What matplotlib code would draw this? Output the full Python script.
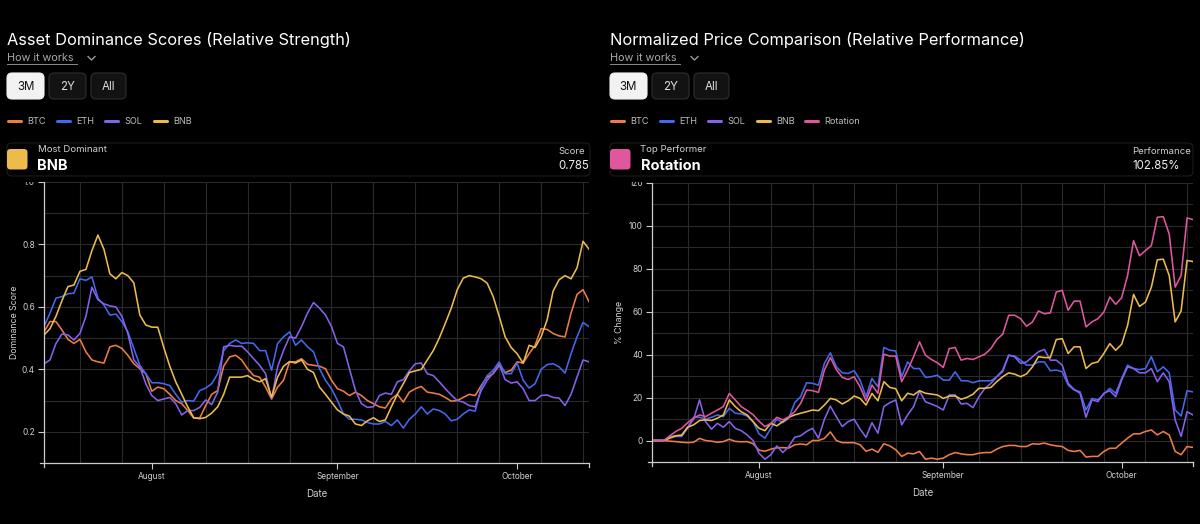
import numpy as np
import matplotlib
matplotlib.use('Agg')
import matplotlib.pyplot as plt
import matplotlib.dates as mdates
from matplotlib.ticker import MultipleLocator
from matplotlib.patches import FancyBboxPatch, Rectangle

plt.rcParams['font.family'] = ['Inter', 'DejaVu Sans']

# daily points, 14 Jul 2025 .. 13 Oct 2025
dates = np.arange('2025-07-14', '2025-10-14', dtype='datetime64[D]')

# dominance scores (left chart)
dom_btc = [.52, .553, .553, .526, .496, .483, .496, .456, .43, .424, .42, .472, .477, .467, .445, .418,
           .402, .386, .33, .343, .338, .32, .30, .29, .268, .244, .244, .284, .32, .332, .41, .44,
           .445, .43, .402, .38, .375, .343, .305, .343, .365, .424, .424, .434, .416, .413, .41, .402,
           .365, .338, .33, .316, .327, .316, .30, .29, .28, .276, .305, .32, .295, .327, .338, .345,
           .327, .324, .32, .31, .298, .30, .31, .32, .316, .348, .375, .386, .413, .39, .397, .424,
           .42, .45, .477, .53, .528, .515, .507, .504, .58, .64, .655, .617]
dom_eth = [.537, .58, .628, .633, .642, .644, .69, .685, .696, .628, .606, .574, .577, .553, .52, .467,
           .413, .386, .357, .357, .354, .348, .32, .295, .30, .298, .332, .34, .354, .386, .46, .483,
           .494, .483, .485, .483, .46, .46, .397, .483, .504, .52, .477, .494, .472, .456, .402, .365,
           .338, .30, .257, .24, .24, .238, .23, .225, .225, .233, .22, .238, .212, .24, .257, .28,
           .257, .273, .268, .257, .235, .24, .257, .27, .266, .343, .38, .397, .424, .386, .386, .42,
           .365, .34, .354, .40, .415, .418, .408, .388, .45, .504, .55, .537]
dom_sol = [.418, .43, .483, .513, .51, .494, .515, .57, .663, .623, .61, .603, .60, .57, .515, .43,
           .408, .354, .316, .30, .305, .31, .29, .254, .268, .268, .278, .302, .287, .327, .472, .477,
           .474, .474, .456, .434, .413, .386, .305, .408, .461, .504, .50, .537, .58, .614, .596, .574,
           .537, .483, .472, .402, .332, .29, .278, .28, .316, .324, .32, .36, .367, .395, .418, .42,
           .386, .38, .36, .338, .318, .30, .295, .284, .28, .332, .365, .388, .416, .367, .356, .36,
           .338, .30, .30, .316, .318, .31, .308, .284, .32, .375, .43, .424]
dom_bnb = [.51, .53, .57, .62, .665, .67, .714, .72, .78, .83, .785, .706, .69, .71, .70, .677,
           .574, .542, .535, .535, .47, .41, .36, .32, .28, .245, .242, .246, .26, .28, .32, .375,
           .375, .375, .38, .367, .36, .37, .31, .375, .41, .425, .42, .43, .40, .39, .343, .32,
           .295, .27, .257, .25, .225, .22, .235, .245, .233, .238, .28, .32, .354, .39, .395, .40,
           .43, .46, .50, .547, .596, .655, .692, .70, .696, .69, .676, .633, .57, .504, .47, .45,
           .42, .477, .47, .504, .558, .65, .687, .70, .69, .725, .81, .785]

# normalized % change (right chart)
perf_btc = [0, 0, 0, -0.3, -0.5, -0.8, -1, -0.8, 1, 0, -0.3, -0.8, -0.5, 0.6, -0.4, -0.6,
            -0.5, -1.5, -4.5, -5, -4, -3.4, -3.3, -3.5, -2, -1.6, -2, 0, 0, 1, 4, 0,
            -1, -1, -1, -2, -5, -4, -5.5, -1.5, -2.5, -4.3, -7.4, -5.9, -6.2, -5.1, -8.7, -8.2,
            -8.7, -8.2, -6.6, -5.6, -6.2, -6.6, -6.6, -5.9, -5.6, -5.6, -4, -2.8, -2.3, -2.3, -2.8, -2.8,
            -1.5, -1.7, -1.2, -2, -2.5, -2.8, -4.6, -5.1, -4.6, -7.7, -7.4, -7.4, -5.1, -3.6, -3.6, -1.2,
            1.1, 3.1, 3.1, 4.2, 4.9, 2.6, 4.2, 2.6, -5.1, -6.6, -2.8, -3.2]
perf_eth = [0, 0, 0, 1.9, 2.2, 2.2, 5.7, 10.8, 10.8, 9.9, 10.8, 11.9, 11.1, 15, 12.7, 12.4,
            11.4, 8.8, 3.1, 1.1, 5.7, 9.9, 8.3, 10.4, 17.6, 20.4, 26.9, 26.6, 25.8, 35.9, 40.8, 34.3,
            31.5, 31.2, 32.5, 28.1, 20.4, 28.9, 25, 43.3, 42, 41.7, 29.7, 36.6, 33.5, 33.5, 29.4, 29.7,
            30.4, 28.1, 28.1, 32, 27.8, 27.8, 26.9, 27.8, 27.8, 27.8, 29.7, 32, 39.7, 39.3, 37.4, 35.1,
            35.1, 36.6, 36.6, 32.5, 32.8, 32, 25.8, 23.5, 22.7, 14.2, 19.6, 18.9, 21.6, 24.3, 22, 28.9,
            35.1, 33.5, 33, 33.5, 39, 32, 34.3, 31.5, 14.2, 11.4, 23.2, 22.6]
perf_sol = [0, 0, 0, 1.5, 1.9, 1.9, 6.2, 9.9, 18.9, 8.8, 5.3, 8, 6.2, 8.8, 5.7, 4.6,
            2.6, 0, -5.9, -8.7, -6.6, -2.5, -5.6, -2.8, 1.5, 2.2, 4.2, 5.7, 1.1, 9.9, 16, 11.1,
            6.5, 8.8, 9.9, 5.3, 1.5, 8.3, 3.4, 15.8, 17.6, 18.9, 7.3, 11.9, 15.8, 23, 18, 17,
            15.8, 14.2, 21.2, 21.2, 17, 17.3, 15.3, 20.4, 24.3, 26.6, 29.7, 32.8, 39.7, 39, 35.9, 36.6,
            39, 41.3, 42.4, 37.4, 37.4, 35.1, 26.6, 23.8, 22, 10.8, 18.9, 18.1, 22, 23.2, 20.4, 28.1,
            34.3, 33.5, 31.5, 31.5, 33.5, 27.4, 31.5, 27.4, 9.6, 1.9, 13.4, 11.9]
perf_bnb = [0, 0, 0, 1.1, 2.2, 2.6, 6.2, 7.3, 9.3, 9.6, 9.3, 10.4, 11.9, 18.9, 15.8, 13.4,
            11.9, 8.8, 5.7, 4.6, 8, 6.8, 8.8, 10.8, 11.9, 12.7, 13.4, 14.2, 13.9, 16.5, 19.6, 18.9,
            17, 18.5, 20.7, 19.6, 16.5, 21.9, 18.5, 27.4, 24.7, 24.1, 18.5, 22, 21.2, 23.2, 22, 21.6,
            21.2, 19.6, 20.7, 20.7, 19.2, 20.1, 21.6, 24.3, 24.3, 24.7, 27.4, 29.7, 31.5, 30.9, 29.7, 31,
            34.3, 39, 38.6, 38.6, 47, 47.4, 40.5, 43.6, 43.6, 33.5, 35.9, 36.6, 40.5, 45.1, 42, 44.8,
            53.6, 68, 62.4, 64.4, 71.4, 84.1, 84.4, 76.8, 55.2, 60.3, 83.8, 83.3]
perf_rot = [0, 0, 0, 2.2, 4.2, 5.7, 8.3, 10.4, 11.9, 11.1, 12.7, 14.2, 15.8, 21.9, 18.9, 15.8,
            14, 12, 9, 6.5, 8, 10.8, 9.6, 11, 13.4, 17.3, 23.5, 23.2, 22.4, 32.8, 38.6, 33,
            29.4, 28.4, 29.7, 25, 18.5, 25.8, 22, 40.2, 39.3, 39.3, 27.4, 32.8, 39, 45.9, 39.7, 37.7,
            36.2, 34, 42.8, 43.3, 37.4, 38.2, 37.7, 39, 40.2, 42.8, 47, 49.5, 58.3, 58.3, 56.7, 53.2,
            55.2, 60.3, 59, 59.4, 69.1, 69.9, 60.6, 64.9, 64.9, 52.9, 55.2, 56.7, 59.8, 66.8, 63.4, 66.5,
            76.8, 93, 86, 88.4, 90.7, 103.9, 104.2, 96.1, 71.4, 76.8, 103.6, 102.85]

names = ['BTC', 'ETH', 'SOL', 'BNB', 'Rotation']
colors = {'BTC': '#ee7d45', 'ETH': '#4468ee', 'SOL': '#8462ea', 'BNB': '#ecbb4c', 'Rotation': '#e0579e'}

W, H = 1200, 524
fig = plt.figure(figsize=(12, 5.24), dpi=100, facecolor='black')

ax1 = fig.add_axes([44 / W, 1 - 463 / H, 545 / W, 281 / H])
ax2 = fig.add_axes([652 / W, 1 - 462 / H, 541 / W, 279.3 / H])

for n, s in zip(names[:4], [dom_btc, dom_eth, dom_sol, dom_bnb]):
    ax1.plot(dates, s, color=colors[n], lw=1.15)
for n, s in zip(names, [perf_btc, perf_eth, perf_sol, perf_bnb, perf_rot]):
    ax2.plot(dates, s, color=colors[n], lw=1.15)


def style_axes(ax, ylim, major, minor, ylabel, ylabelpad):
    ax.set_facecolor('black')
    ax.set_xlim(dates[0], dates[-1])
    ax.set_ylim(*ylim)
    ax.xaxis.set_major_locator(mdates.MonthLocator())
    ax.xaxis.set_major_formatter(mdates.DateFormatter('%B'))
    ax.xaxis.set_minor_locator(mdates.WeekdayLocator(byweekday=mdates.SU))
    ax.yaxis.set_major_locator(MultipleLocator(major))
    ax.yaxis.set_minor_locator(MultipleLocator(minor))
    ax.grid(which='minor', axis='x', color='#2a2a2a', lw=0.8)
    ax.grid(which='both', axis='y', color='#2a2a2a', lw=0.8)
    ax.set_axisbelow(True)
    ax.tick_params(which='minor', length=0)
    ax.tick_params(which='major', length=4, width=0.8, color='#cccccc',
                   labelcolor='#d0d0d0', labelsize=6, pad=2.5)
    for side in ['top', 'right']:
        ax.spines[side].set_visible(False)
    for side in ['left', 'bottom']:
        ax.spines[side].set_color('#cccccc')
        ax.spines[side].set_linewidth(0.9)
    # outer ticks at the ends of the domain
    for xe in [0, 1]:
        ax.plot([xe, xe], [0, -0.015], transform=ax.transAxes, color='#cccccc', lw=0.9, clip_on=False)
    ax.plot([0, -0.007], [0, 0], transform=ax.transAxes, color='#cccccc', lw=0.9, clip_on=False)
    ax.set_xlabel('Date', color='#cfcfcf', fontsize=7, labelpad=6)
    ax.set_ylabel(ylabel, color='#cfcfcf', fontsize=6.3, labelpad=ylabelpad)


style_axes(ax1, (0.1, 1.0), 0.2, 0.1, 'Dominance Score', 2)
style_axes(ax2, (-10, 120), 20, 10, '% Change', 3.5)

# overlay in pixel coordinates for the page elements above the charts
ov = fig.add_axes([0, 0, 1, 1])
ov.set_xlim(0, W)
ov.set_ylim(H, 0)
ov.axis('off')
ov.set_zorder(10)
ov.patch.set_alpha(0)

# the chart area starts just below the header card, so the top tick labels are cut
ov.add_patch(Rectangle((0, 170), W, 11.5, fc='black', ec='none'))


def header(x0, title, series, top_label, main_label, sq_color, stat_label, stat_value, stat_x, box_r):
    ov.text(x0, 40, title, color='white', fontsize=11.8, va='center', ha='left')
    ov.text(x0, 58, 'How it works', color='#a8a8a8', fontsize=7.8, va='center', ha='left')
    ov.plot([x0, x0 + 70], [63.5, 63.5], color='#8a8a8a', lw=0.7)
    ov.plot([x0 + 81, x0 + 84.5, x0 + 88], [56.5, 60, 56.5], color='#a8a8a8', lw=0.9)

    buttons = [('3M', x0, 37, True), ('2Y', x0 + 42, 37, False), ('All', x0 + 84, 35, False)]
    for lab, bx, bw, active in buttons:
        fc = '#f2f2f2' if active else '#121212'
        ec = '#f2f2f2' if active else '#2e2e2e'
        ov.add_patch(FancyBboxPatch((bx, 73), bw, 26, boxstyle='round,pad=0,rounding_size=5',
                                    fc=fc, ec=ec, lw=0.8))
        ov.text(bx + bw / 2, 86.5, lab, color='#111111' if active else '#dddddd',
                fontsize=8.3, ha='center', va='center')

    lx = x0 + 1
    for n in series:
        ov.plot([lx, lx + 13], [121, 121], color=colors[n], lw=2.2, solid_capstyle='round')
        ov.text(lx + 19.5, 121, n, color='#bdbdbd', fontsize=6.6, va='center', ha='left')
        lx += 48.5

    ov.add_patch(FancyBboxPatch((x0, 143), box_r - x0, 33, boxstyle='round,pad=0,rounding_size=5',
                                fc='black', ec='#1c1c1c', lw=0.8))
    ov.add_patch(FancyBboxPatch((x0, 149), 20.5, 20.5, boxstyle='round,pad=0,rounding_size=3.5',
                                fc=sq_color, ec='none'))
    ov.text(x0 + 30.5, 150, top_label, color='#cfcfcf', fontsize=6.9, va='center', ha='left')
    ov.text(x0 + 30.5, 166, main_label, color='white', fontsize=10.5, fontweight='bold',
            va='center', ha='left')
    ov.text(stat_x, 151, stat_label, color='#cfcfcf', fontsize=6.9, va='center', ha='left')
    ov.text(stat_x, 166, stat_value, color='#eeeeee', fontsize=8.3, va='center', ha='left')


header(7, 'Asset Dominance Scores (Relative Strength)', names[:4], 'Most Dominant', 'BNB',
       colors['BNB'], 'Score', '0.785', 558, 590)
header(610, 'Normalized Price Comparison (Relative Performance)', names, 'Top Performer', 'Rotation',
       colors['Rotation'], 'Performance', '102.85%', 1132, 1193)

fig.savefig('out.png', dpi=100, facecolor='black')
